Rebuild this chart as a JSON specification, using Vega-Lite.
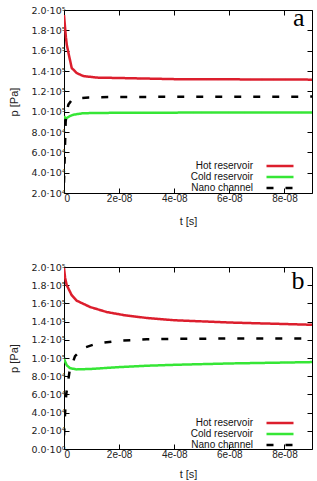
{
  "$schema": "https://vega.github.io/schema/vega-lite/v6.json",
  "padding": {"left": 7, "top": 4, "right": 5, "bottom": 0},
  "spacing": 34,
  "datasets": {
    "a": [
      {"series": "Hot reservoir", "t": 0, "p": 195000},
      {"series": "Hot reservoir", "t": 3.5e-10, "p": 184000},
      {"series": "Hot reservoir", "t": 7e-10, "p": 173000},
      {"series": "Hot reservoir", "t": 1e-9, "p": 166000},
      {"series": "Hot reservoir", "t": 1.6e-9, "p": 158000},
      {"series": "Hot reservoir", "t": 2.8e-9, "p": 143000},
      {"series": "Hot reservoir", "t": 4.6e-9, "p": 138000},
      {"series": "Hot reservoir", "t": 7e-9, "p": 135000},
      {"series": "Hot reservoir", "t": 1.2e-8, "p": 133500},
      {"series": "Hot reservoir", "t": 2.2e-8, "p": 133000},
      {"series": "Hot reservoir", "t": 4e-8, "p": 132000},
      {"series": "Hot reservoir", "t": 6e-8, "p": 131800},
      {"series": "Hot reservoir", "t": 9e-8, "p": 131500},
      {"series": "Cold reservoir", "t": 0, "p": 95700},
      {"series": "Cold reservoir", "t": 6e-10, "p": 93000},
      {"series": "Cold reservoir", "t": 2e-9, "p": 95500},
      {"series": "Cold reservoir", "t": 3.4e-9, "p": 97000},
      {"series": "Cold reservoir", "t": 7e-9, "p": 98500},
      {"series": "Cold reservoir", "t": 2.2e-8, "p": 99000},
      {"series": "Cold reservoir", "t": 9e-8, "p": 99200},
      {"series": "Nano channel", "t": 0, "p": 30000},
      {"series": "Nano channel", "t": 3e-10, "p": 60000},
      {"series": "Nano channel", "t": 6e-10, "p": 90000},
      {"series": "Nano channel", "t": 1e-9, "p": 100000},
      {"series": "Nano channel", "t": 1.6e-9, "p": 107000},
      {"series": "Nano channel", "t": 2.8e-9, "p": 111500},
      {"series": "Nano channel", "t": 4.6e-9, "p": 113000},
      {"series": "Nano channel", "t": 9e-9, "p": 114000},
      {"series": "Nano channel", "t": 2e-8, "p": 114500},
      {"series": "Nano channel", "t": 9e-8, "p": 114800}
    ],
    "b": [
      {"series": "Hot reservoir", "t": 0, "p": 199000},
      {"series": "Hot reservoir", "t": 4e-10, "p": 188000},
      {"series": "Hot reservoir", "t": 1e-9, "p": 180000},
      {"series": "Hot reservoir", "t": 2.8e-9, "p": 169000},
      {"series": "Hot reservoir", "t": 4.6e-9, "p": 163000},
      {"series": "Hot reservoir", "t": 9.5e-9, "p": 156000},
      {"series": "Hot reservoir", "t": 1.55e-8, "p": 150500},
      {"series": "Hot reservoir", "t": 2.2e-8, "p": 147000},
      {"series": "Hot reservoir", "t": 3e-8, "p": 144000},
      {"series": "Hot reservoir", "t": 4e-8, "p": 141500},
      {"series": "Hot reservoir", "t": 6e-8, "p": 139000},
      {"series": "Hot reservoir", "t": 9e-8, "p": 136500},
      {"series": "Cold reservoir", "t": 0, "p": 99000},
      {"series": "Cold reservoir", "t": 1e-9, "p": 92000},
      {"series": "Cold reservoir", "t": 2.2e-9, "p": 88800},
      {"series": "Cold reservoir", "t": 4.6e-9, "p": 87500},
      {"series": "Cold reservoir", "t": 1e-8, "p": 88000},
      {"series": "Cold reservoir", "t": 2e-8, "p": 90000},
      {"series": "Cold reservoir", "t": 3e-8, "p": 91500},
      {"series": "Cold reservoir", "t": 4e-8, "p": 92500},
      {"series": "Cold reservoir", "t": 6e-8, "p": 94000},
      {"series": "Cold reservoir", "t": 9e-8, "p": 95500},
      {"series": "Nano channel", "t": 0, "p": 15000},
      {"series": "Nano channel", "t": 3e-10, "p": 35000},
      {"series": "Nano channel", "t": 8e-10, "p": 60000},
      {"series": "Nano channel", "t": 2e-9, "p": 85000},
      {"series": "Nano channel", "t": 4e-9, "p": 102000},
      {"series": "Nano channel", "t": 7e-9, "p": 111000},
      {"series": "Nano channel", "t": 1.2e-8, "p": 116000},
      {"series": "Nano channel", "t": 2e-8, "p": 119000},
      {"series": "Nano channel", "t": 3e-8, "p": 120500},
      {"series": "Nano channel", "t": 4e-8, "p": 121000},
      {"series": "Nano channel", "t": 6e-8, "p": 121500},
      {"series": "Nano channel", "t": 9e-8, "p": 121500}
    ]
  },
  "config": {
    "font": "Liberation Sans",
    "view": {"stroke": "#000000", "strokeWidth": 1},
    "axis": {
      "grid": false,
      "domain": false,
      "tickSize": -5,
      "tickColor": "#000000",
      "labelFont": "Liberation Sans",
      "labelFontSize": 10,
      "labelColor": "#222222",
      "titleFont": "Liberation Sans",
      "titleFontSize": 11,
      "titleFontWeight": "normal",
      "titleColor": "#222222"
    },
    "legend": {
      "orient": "none",
      "legendX": 210,
      "legendY": 150,
      "symbolType": "M-3,0L3,0",
      "symbolSize": 81,
      "symbolStrokeWidth": 2.5,
      "labelAlign": "right",
      "labelOffset": -33,
      "labelFontSize": 10,
      "labelFont": "Liberation Sans",
      "labelColor": "#111111",
      "rowPadding": -2.5,
      "padding": 0
    },
    "title": {"font": "Liberation Serif", "fontSize": 26, "fontWeight": "normal", "anchor": "end", "color": "#000000"}
  },
  "resolve": {
    "scale": {"color": "independent", "strokeDash": "independent"},
    "legend": {"color": "independent", "strokeDash": "independent"}
  },
  "vconcat": [
    {
      "width": 248,
      "height": 183,
      "title": {"text": "a", "offset": -26, "dx": -8},
      "data": {"name": "a"},
      "resolve": {"axis": {"x": "independent", "y": "independent"}},
      "layer": [
        {
          "mark": {"type": "line", "strokeWidth": 2.5, "clip": true},
          "encoding": {
            "x": {"field": "t", "type": "quantitative", "scale": {"domain": [0, 9e-8], "nice": false},
              "axis": {"orient": "bottom", "values": [0, 2e-8, 4e-8, 6e-8, 8e-8], "title": "t [s]", "labelPadding": 5, "titlePadding": 7, "minExtent": 15, "maxExtent": 15,
                "labelExpr": "datum.value == 0 ? '0' : replace(format(datum.value, '.0e'), 'e-', 'e-0')"}},
            "y": {"field": "p", "type": "quantitative", "scale": {"domain": [20000, 200000], "nice": false, "zero": false},
              "axis": {"orient": "left", "values": [20000, 40000, 60000, 80000, 100000, 120000, 140000, 160000, 180000, 200000], "title": "p [Pa]", "labelPadding": 4, "titlePadding": 8, "minExtent": 37, "maxExtent": 37, "labelFont": "DejaVu Sans", "labelFontSize": 9.5,
                "labelExpr": "datum.value == 0 ? '0.0·10⁰' : datum.value >= 99999 ? format(datum.value / 100000, '.1f') + '·10⁵' : format(datum.value / 10000, '.1f') + '·10⁴'"}},
            "color": {"field": "series", "type": "nominal", "sort": ["Hot reservoir", "Cold reservoir", "Nano channel"],
              "scale": {"domain": ["Hot reservoir", "Cold reservoir", "Nano channel"], "range": ["#dc1e2d", "#36e636", "#000000"]},
              "legend": {"title": null}},
            "strokeDash": {"field": "series", "type": "nominal", "sort": ["Hot reservoir", "Cold reservoir", "Nano channel"],
              "scale": {"domain": ["Hot reservoir", "Cold reservoir", "Nano channel"], "range": [[1, 0], [1, 0], [7, 12]]},
              "legend": {"title": null}}
          }
        },
        {
          "mark": {"type": "line", "opacity": 0},
          "encoding": {
            "x": {"field": "t", "type": "quantitative", "axis": {"orient": "top", "values": [0, 2e-8, 4e-8, 6e-8, 8e-8], "labels": false, "title": null}},
            "y": {"field": "p", "type": "quantitative", "axis": {"orient": "right", "values": [20000, 40000, 60000, 80000, 100000, 120000, 140000, 160000, 180000, 200000], "labels": false, "title": null}},
            "detail": {"field": "series", "type": "nominal"}
          }
        }
      ]
    },
    {
      "width": 248,
      "height": 182,
      "title": {"text": "b", "offset": -32, "dx": -8},
      "data": {"name": "b"},
      "resolve": {"axis": {"x": "independent", "y": "independent"}},
      "layer": [
        {
          "mark": {"type": "line", "strokeWidth": 2.5, "clip": true},
          "encoding": {
            "x": {"field": "t", "type": "quantitative", "scale": {"domain": [0, 9e-8], "nice": false},
              "axis": {"orient": "bottom", "values": [0, 2e-8, 4e-8, 6e-8, 8e-8], "title": "t [s]", "labelPadding": 5, "titlePadding": 4, "minExtent": 15, "maxExtent": 15,
                "labelExpr": "datum.value == 0 ? '0' : replace(format(datum.value, '.0e'), 'e-', 'e-0')"}},
            "y": {"field": "p", "type": "quantitative", "scale": {"domain": [0, 200000], "nice": false},
              "axis": {"orient": "left", "values": [0, 20000, 40000, 60000, 80000, 100000, 120000, 140000, 160000, 180000, 200000], "title": "p [Pa]", "labelPadding": 4, "titlePadding": 8, "minExtent": 37, "maxExtent": 37, "labelFont": "DejaVu Sans", "labelFontSize": 9.5,
                "labelExpr": "datum.value == 0 ? '0.0·10⁰' : datum.value >= 99999 ? format(datum.value / 100000, '.1f') + '·10⁵' : format(datum.value / 10000, '.1f') + '·10⁴'"}},
            "color": {"field": "series", "type": "nominal", "sort": ["Hot reservoir", "Cold reservoir", "Nano channel"],
              "scale": {"domain": ["Hot reservoir", "Cold reservoir", "Nano channel"], "range": ["#dc1e2d", "#36e636", "#000000"]},
              "legend": {"title": null}},
            "strokeDash": {"field": "series", "type": "nominal", "sort": ["Hot reservoir", "Cold reservoir", "Nano channel"],
              "scale": {"domain": ["Hot reservoir", "Cold reservoir", "Nano channel"], "range": [[1, 0], [1, 0], [7, 12]]},
              "legend": {"title": null}}
          }
        },
        {
          "mark": {"type": "line", "opacity": 0},
          "encoding": {
            "x": {"field": "t", "type": "quantitative", "axis": {"orient": "top", "values": [0, 2e-8, 4e-8, 6e-8, 8e-8], "labels": false, "title": null}},
            "y": {"field": "p", "type": "quantitative", "axis": {"orient": "right", "values": [0, 20000, 40000, 60000, 80000, 100000, 120000, 140000, 160000, 180000, 200000], "labels": false, "title": null}},
            "detail": {"field": "series", "type": "nominal"}
          }
        }
      ]
    }
  ]
}
